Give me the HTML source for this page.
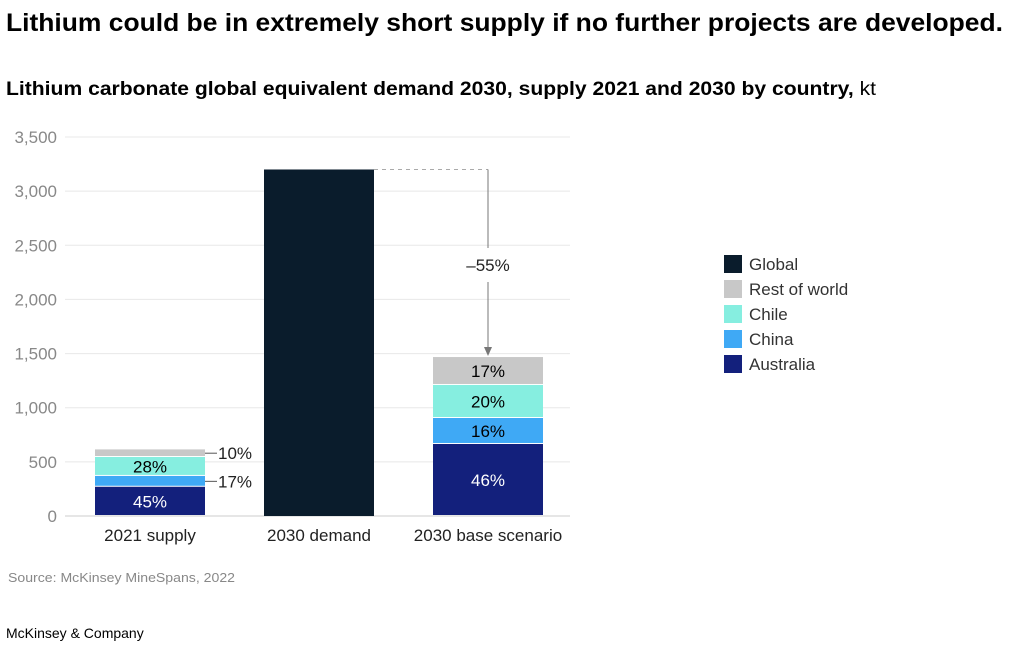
<!DOCTYPE html>
<html><head><meta charset="utf-8"><style>
body{margin:0;background:#fff;font-family:"Liberation Sans",sans-serif;}
#wrap{position:relative;width:1013px;height:646px;overflow:hidden}
</style></head><body>
<div id="wrap">
<svg width="1013" height="646" font-family="Liberation Sans, sans-serif">
<text x="6" y="31" font-size="25" font-weight="bold" fill="#000" textLength="997" lengthAdjust="spacingAndGlyphs">Lithium could be in extremely short supply if no further projects are developed.</text>
<text x="6" y="95" font-size="19" font-weight="bold" fill="#000" textLength="870" lengthAdjust="spacingAndGlyphs">Lithium carbonate global equivalent demand 2030, supply 2021 and 2030 by country, <tspan font-weight="normal">kt</tspan></text>
<g id="grid"></g><g id="bars"></g><g id="ann"></g>
<g font-size="17" fill="#333" id="legend"></g>
<text x="8" y="582" font-size="13" fill="#888" textLength="227" lengthAdjust="spacingAndGlyphs">Source: McKinsey MineSpans, 2022</text>
<text x="6" y="638" font-size="14" fill="#000">McKinsey &amp; Company</text>
</svg></div>
<script>
const categories=["2021 supply","2030 demand","2030 base scenario"];
const seriesNames=["Australia","China","Chile","Rest of world","Global"];
const australia=[270,0,665];
const china=[100,0,240];
const chile=[175,0,305];
const restOfWorld=[70,0,258];
const globalDemand=[0,3200,0];
const pctLabels=[["45%","17%","28%","10%"],null,["46%","16%","20%","17%"]];
const ticks=[0,500,1000,1500,2000,2500,3000,3500];
const colors=["#13207c","#3fa9f5","#86eee0","#c8c8c8","#0a1c2c"];
const NS="http://www.w3.org/2000/svg";
function y(v){return 516-v*(379/3500);}
function bx(i){return 95+i*169;}
const BW=110;
function mk(p,t,a){const e=document.createElementNS(NS,t);for(const k in a)e.setAttribute(k,a[k]);p.appendChild(e);return e;}
const grid=document.getElementById('grid');
ticks.forEach(t=>{
 const l=mk(grid,'line',{x1:65,x2:570,y1:y(t),y2:y(t),stroke:t===0?'#ccc':'#e8e8e8'});
 
 
 const tx=mk(grid,'text',{x:57,y:y(t)+6,'text-anchor':'end','font-size':17,fill:'#888'});
 tx.textContent=t.toLocaleString('en-US');
 
 
});
const bars=document.getElementById('bars');
const series=[australia,china,chile,restOfWorld,globalDemand];
categories.forEach((c,i)=>{
 let acc=0;
 series.forEach((s,k)=>{
  const v=s[i]; if(!v)return;
  const top=y(acc+v),bot=y(acc);
  const r=mk(bars,'rect',{x:bx(i),y:top,width:BW,height:Math.max(0,bot-top-(acc>0||k<4?1:0)),fill:colors[k]});
  
  
  const lab=pctLabels[i];
  if(lab){
   const mid=(top+bot)/2+6;
   if(i===0&&(k===1||k===3)){
    const ly=(top+bot)/2;
    mk(bars,'line',{x1:bx(i)+BW,x2:bx(i)+BW+12,y1:ly,y2:ly,stroke:'#555'});
    const t=mk(bars,'text',{x:bx(i)+BW+13,y:ly+6,'font-size':17,fill:'#222'});t.textContent=lab[k];
    
    
   } else {
    const t=mk(bars,'text',{x:bx(i)+BW/2,y:mid,'text-anchor':'middle','font-size':17,fill:k===0?'#fff':'#000'});t.textContent=lab[k];
    
    
   }
  }
  acc+=v;
 });
 const t=mk(bars,'text',{x:bx(i)+BW/2,y:541,'text-anchor':'middle','font-size':17,fill:'#222'});t.textContent=c;
 
 
});
const ann=document.getElementById('ann');
const dTop=y(globalDemand[1]);
const bTop=y(australia[2]+china[2]+chile[2]+restOfWorld[2]);
const ax=bx(2)+BW/2;
mk(ann,'line',{x1:bx(1)+BW,x2:ax,y1:dTop,y2:dTop,stroke:'#aaa','stroke-dasharray':'4,4'});
mk(ann,'line',{x1:ax,x2:ax,y1:dTop,y2:248,stroke:'#777'});
mk(ann,'line',{x1:ax,x2:ax,y1:282,y2:bTop-8,stroke:'#777'});
mk(ann,'path',{d:`M${ax-4},${bTop-10}L${ax+4},${bTop-10}L${ax},${bTop-1}Z`,fill:'#777'});
const at=mk(ann,'text',{x:ax,y:271,'text-anchor':'middle','font-size':17,fill:'#222'});at.textContent='–55%';


const lg=document.getElementById('legend');
[4,3,2,1,0].forEach((k,j)=>{
 const cy=264+j*25;
 const r=mk(lg,'rect',{x:724,y:cy-9,width:18,height:18,fill:colors[k]});
 
 
 const t=mk(lg,'text',{x:749,y:cy+6,'font-size':17,fill:'#333'});t.textContent=seriesNames[k];
 
 
});
</script>
</body></html>
